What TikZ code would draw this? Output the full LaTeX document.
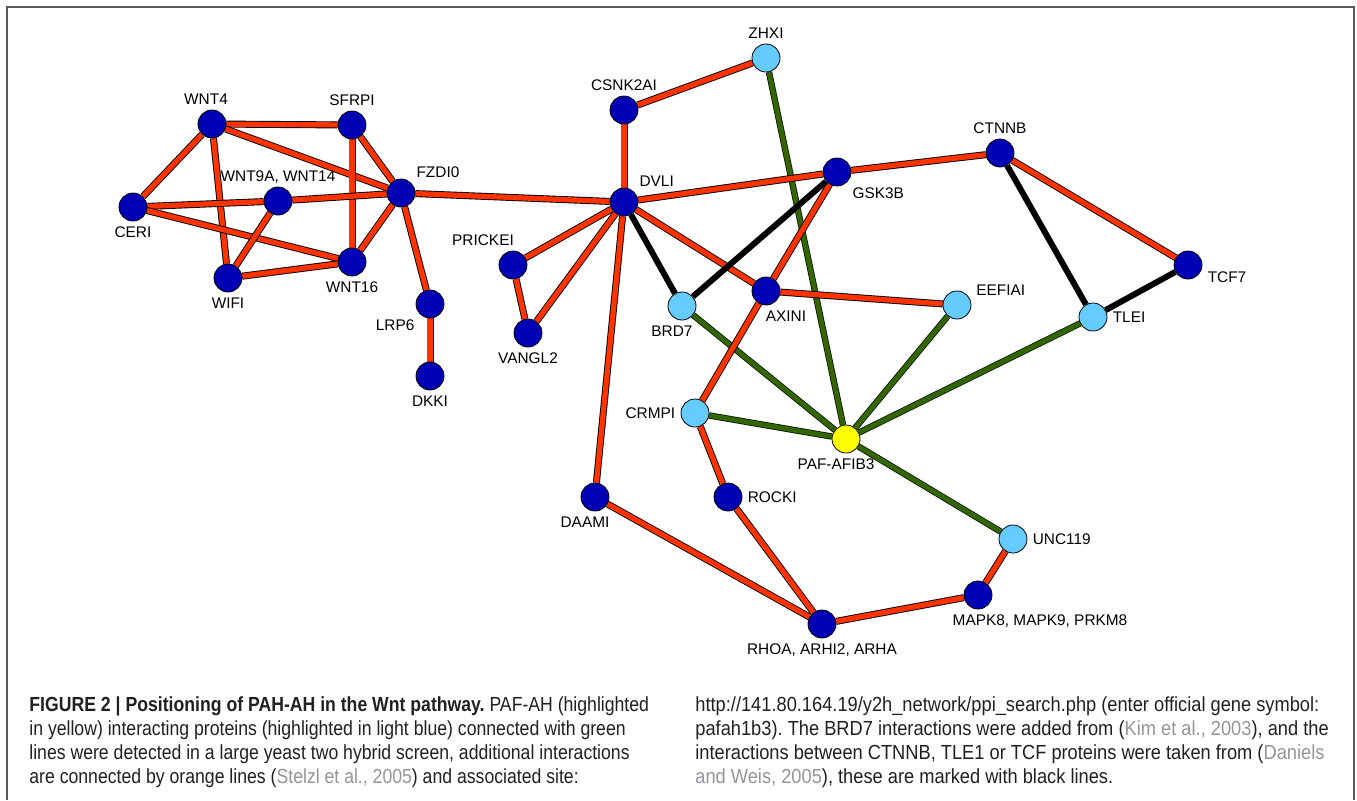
\documentclass[tikz,border=0pt]{standalone}
\usepackage{fontspec}
\setmainfont{Liberation Sans}
\newfontfamily\capfont[FakeStretch=0.865]{Liberation Sans}
\newfontfamily\capwidefont[FakeStretch=0.895]{Liberation Sans}
\usepackage{tikz}
\usetikzlibrary{backgrounds}
\frenchspacing

\definecolor{edgeorange}{HTML}{FF3300}
\definecolor{edgegreen}{HTML}{336600}
\definecolor{protblue}{HTML}{0000B4}
\definecolor{hitblue}{HTML}{66CCFF}
\definecolor{pafyellow}{HTML}{FFFF00}
\definecolor{captext}{HTML}{231F20}
\definecolor{citegray}{HTML}{939598}

\begin{document}
\begin{tikzpicture}[
      x=0.5pt, y=-0.5pt,
      prot/.style={
        circle,
        draw=black,
        line width=0.4pt,
        fill=protblue,
        minimum size=14pt,
        inner sep=0pt
      },
      hit/.style={prot, fill=hitblue},
      paf/.style={prot, fill=pafyellow},
      every label/.style={font=\fontsize{7.7}{9}\selectfont, inner sep=2.5pt},
      oedge/.style={draw=black, line width=0.45pt, double=edgeorange, double distance=2.6pt},
      gedge/.style={draw=black!80!edgegreen, line width=0.4pt, double=edgegreen, double distance=2.4pt},
      bedge/.style={draw=black, line width=3pt}
    ]
    \useasboundingbox (0,0) rectangle (1357,800);
    \draw[black!65, line width=1pt] (7,800) -- (7,7) -- (1354,7) -- (1354,800);

    % Wnt / frizzled cluster
    \node[prot, label={[xshift=-3pt]above:WNT4}] (wnt4) at (212,124) {};
    \node[prot, label=above:SFRPI] (sfrp1) at (352,125) {};
    \node[prot, label=above right:FZDI0] (fzd10) at (401,193) {};
    \node[prot, label={[yshift=-1pt]above:{WNT9A, WNT14}}] (wnt9a) at (278,201) {};
    \node[prot, label=below:CERI] (cer1) at (133,207) {};
    \node[prot, label=below:WNT16] (wnt16) at (352,262) {};
    \node[prot, label=below:WIFI] (wif1) at (228,278) {};
    \node[prot, label=below left:LRP6] (lrp6) at (430,304) {};
    \node[prot, label=below:DKKI] (dkk1) at (430,376) {};

    % Dishevelled and partners
    \node[prot, label=above:CSNK2AI] (csnk2a1) at (624,110) {};
    \node[hit, label=above:ZHXI] (zhx1) at (766,58) {};
    \node[prot, label=above right:DVLI] (dvl1) at (624,202) {};
    \node[prot, label=below right:GSK3B] (gsk3b) at (837,172) {};
    \node[prot, label=above:CTNNB] (ctnnb) at (1000,153) {};
    \node[prot, label={[xshift=-15pt]above:PRICKEI}] (prickle1) at (513,265) {};
    \node[prot, label=below:VANGL2] (vangl2) at (528,333) {};
    \node[hit, label={[xshift=-5pt]below:BRD7}] (brd7) at (682,306) {};
    \node[prot, label={[xshift=10pt]below:AXINI}] (axin1) at (766,291) {};
    \node[hit, label=15:EEFIAI] (eef1a1) at (957,305) {};
    \node[hit, label=right:TLEI] (tle1) at (1093,317) {};
    \node[prot, label={[yshift=-6pt]right:TCF7}] (tcf7) at (1188,265) {};

    % PAF-AH and lower part
    \node[hit, label=left:CRMPI] (crmp1) at (695,413) {};
    \node[paf, label={[xshift=-5pt]below:PAF-AFIB3}] (pafah) at (846,439) {};
    \node[prot, label={[xshift=-5pt]below:DAAMI}] (daam1) at (595,497) {};
    \node[prot, label=right:ROCKI] (rock1) at (728,497) {};
    \node[hit, label=right:UNC119] (unc119) at (1013,539) {};
    \node[prot, label={[xshift=31pt]below:{MAPK8, MAPK9, PRKM8}}] (mapk8) at (978,595) {};
    \node[prot, label=below:{RHOA, ARHI2, ARHA}] (rhoa) at (822,624) {};

    \begin{scope}[on background layer]
      % yeast two hybrid hits
      \draw[gedge] (zhx1) -- (pafah);
      \draw[gedge] (brd7) -- (pafah);
      \draw[gedge] (eef1a1) -- (pafah);
      \draw[gedge] (tle1) -- (pafah);
      \draw[gedge] (crmp1) -- (pafah);
      \draw[gedge] (pafah) -- (unc119);

      % additional interactions
      \draw[oedge] (wnt4) -- (sfrp1);
      \draw[oedge] (wnt4) -- (fzd10);
      \draw[oedge] (wnt4) -- (cer1);
      \draw[oedge] (wnt4) -- (wif1);
      \draw[oedge] (sfrp1) -- (fzd10);
      \draw[oedge] (sfrp1) -- (wnt16);
      \draw[oedge] (cer1) -- (wnt9a);
      \draw[oedge] (wnt9a) -- (fzd10);
      \draw[oedge] (cer1) -- (wnt16);
      \draw[oedge] (wif1) -- (wnt9a);
      \draw[oedge] (wif1) -- (wnt16);
      \draw[oedge] (wnt16) -- (fzd10);
      \draw[oedge] (fzd10) -- (dvl1);
      \draw[oedge] (fzd10) -- (lrp6);
      \draw[oedge] (lrp6) -- (dkk1);
      \draw[oedge] (csnk2a1) -- (dvl1);
      \draw[oedge] (csnk2a1) -- (zhx1);
      \draw[oedge] (dvl1) -- (gsk3b);
      \draw[oedge] (gsk3b) -- (ctnnb);
      \draw[oedge] (dvl1) -- (prickle1);
      \draw[oedge] (dvl1) -- (vangl2);
      \draw[oedge] (prickle1) -- (vangl2);
      \draw[oedge] (dvl1) -- (daam1);
      \draw[oedge] (dvl1) -- (axin1);
      \draw[oedge] (gsk3b) -- (axin1);
      \draw[oedge] (axin1) -- (eef1a1);
      \draw[oedge] (axin1) -- (crmp1);
      \draw[oedge] (crmp1) -- (rock1);
      \draw[oedge] (rock1) -- (rhoa);
      \draw[oedge] (daam1) -- (rhoa);
      \draw[oedge] (rhoa) -- (mapk8);
      \draw[oedge] (mapk8) -- (unc119);
      \draw[oedge] (ctnnb) -- (tcf7);

      % literature interactions
      \draw[bedge] (dvl1) -- (brd7);
      \draw[bedge] (brd7) -- (gsk3b);
      \draw[bedge] (ctnnb) -- (tle1);
      \draw[bedge] (tle1) -- (tcf7);
    \end{scope}

    % Caption
    \node[anchor=north west, align=left, inner sep=0pt, text=captext,
      font=\capfont\fontsize{10.2}{12}\selectfont] (capleft) at (29,696)
      {\textbf{FIGURE 2 | Positioning of PAH-AH in the Wnt pathway.} PAF-AH (highlighted\\
       in yellow) interacting proteins (highlighted in light blue) connected with green\\
       lines were detected in a large yeast two hybrid screen, additional interactions\\
       are connected by orange lines (\textcolor{citegray}{Stelzl et al., 2005}) and associated site:};
    \node[anchor=north west, align=left, inner sep=0pt, text=captext,
      font=\capwidefont\fontsize{10.2}{12}\selectfont] (capright) at (695,696)
      {http://141.80.164.19/y2h\_network/ppi\_search.php (enter official gene symbol:\\
       pafah1b3). The BRD7 interactions were added from (\textcolor{citegray}{Kim et al., 2003}), and the\\
       interactions between CTNNB, TLE1 or TCF proteins were taken from (\textcolor{citegray}{Daniels}\\
       \textcolor{citegray}{and Weis, 2005}), these are marked with black lines.};
  \end{tikzpicture}
\end{document}
